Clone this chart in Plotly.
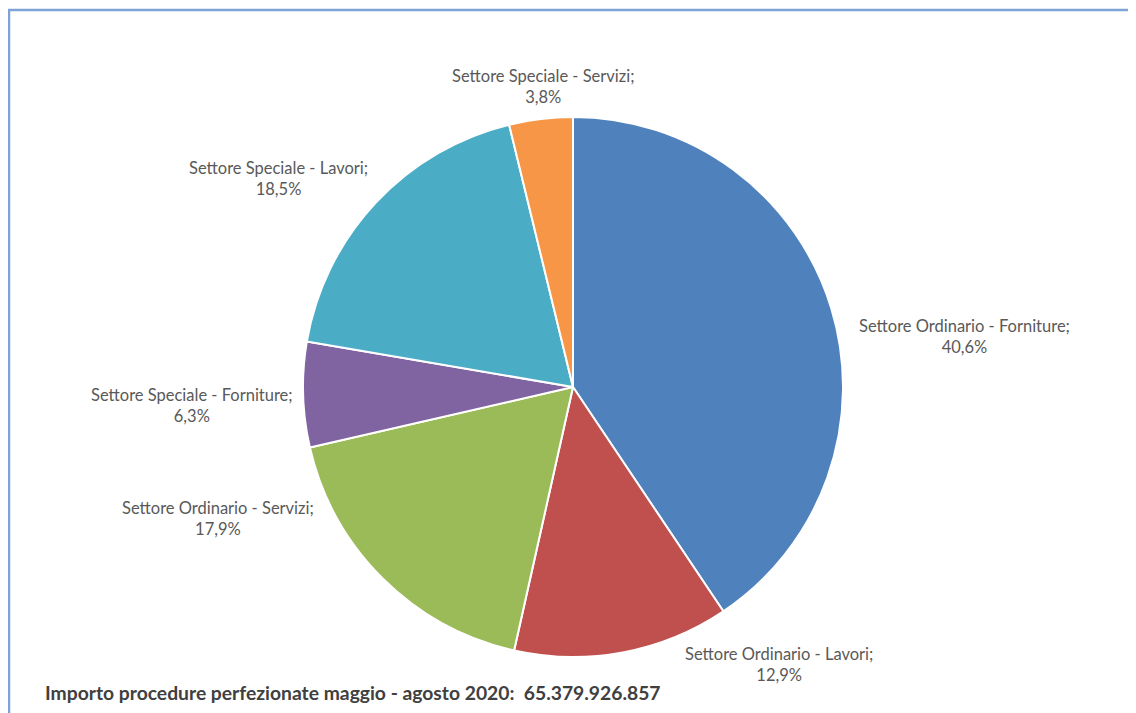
import plotly.graph_objects as go

categories = [
    "Settore Ordinario - Forniture",
    "Settore Ordinario - Lavori",
    "Settore Ordinario - Servizi",
    "Settore Speciale - Forniture",
    "Settore Speciale - Lavori",
    "Settore Speciale - Servizi",
]
shares = [40.6, 12.9, 17.9, 6.3, 18.5, 3.8]
colors = ["#4F81BD", "#C0504D", "#9BBB59", "#8064A2", "#4BACC6", "#F79646"]
label_pos = [(964, 336), (779, 664), (218, 518), (192, 405), (278, 179), (543, 87)]
footer = "Importo procedure perfezionate maggio - agosto 2020:  65.379.926.857"

W, H = 1136, 713
OFF = 8  # page body margin offset


def fx(px):
    return (px - OFF) / W


def fy(py):
    return 1 - (py - OFF) / H


fig = go.Figure(go.Pie(
    labels=categories,
    values=shares,
    sort=False,
    direction="clockwise",
    rotation=0,
    marker=dict(colors=colors, line=dict(color="white", width=2)),
    textinfo="none",
    hoverinfo="label+percent",
    showlegend=False,
    domain=dict(x=[fx(303), fx(843)], y=[fy(657), fy(117)]),
))

for cat, val, (px, py) in zip(categories, shares, label_pos):
    txt = f"{cat};<br>{val:.1f}%".replace(".", ",")
    fig.add_annotation(
        x=fx(px), y=fy(py), xref="paper", yref="paper",
        text=txt, showarrow=False, align="center",
        xanchor="center", yanchor="middle",
        font=dict(family="Lato", size=16.5, color="#595959"),
    )

fig.add_annotation(
    x=fx(43), y=fy(692), xref="paper", yref="paper",
    text=f"<b>{footer}</b>", showarrow=False,
    xanchor="left", yanchor="middle",
    font=dict(family="Lato", size=19.3, color="#404040"),
)

fig.add_shape(
    type="rect", xref="paper", yref="paper",
    x0=fx(9), y0=-0.2, x1=1.3, y1=fy(10),
    line=dict(color="#7FA3D6", width=2.5),
)

fig.update_layout(
    width=W, height=H,
    margin=dict(l=0, r=0, t=0, b=0),
    paper_bgcolor="white", plot_bgcolor="white",
)

fig.write_html("out.html")
